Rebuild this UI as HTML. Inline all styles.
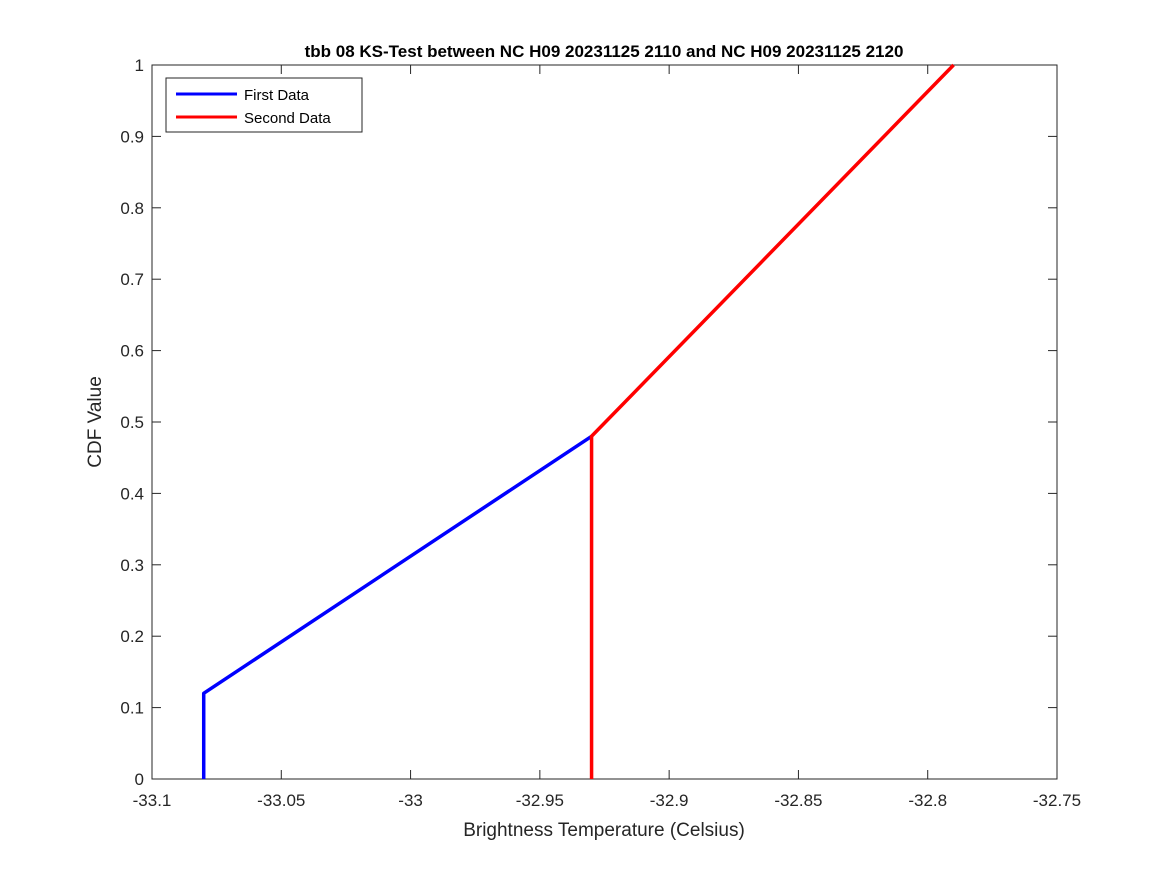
<!DOCTYPE html>
<html><head><meta charset="utf-8"><style>
body{margin:0;background:#fff}
svg text{font-family:"Liberation Sans",sans-serif}
</style></head><body>
<svg width="1167" height="875">
<rect width="1167" height="875" fill="#fff"/>
<g id="axes"></g>
<g id="series"></g>
<text x="604" y="57" text-anchor="middle" font-size="17" font-weight="bold">tbb 08 KS-Test between NC H09 20231125 2110 and NC H09 20231125 2120</text>
<text x="604" y="836" text-anchor="middle" font-size="19" fill="#262626">Brightness Temperature (Celsius)</text>
<text transform="translate(101,422) rotate(-90)" text-anchor="middle" font-size="19" fill="#262626">CDF Value</text>
<g>
<rect x="166" y="78" width="196" height="54" fill="#fff" stroke="#262626" stroke-width="1"/>
<line x1="176" y1="94" x2="237" y2="94" stroke="#0000ff" stroke-width="3"/>
<text x="244" y="100" font-size="15">First Data</text>
<line x1="176" y1="117" x2="237" y2="117" stroke="#ff0000" stroke-width="3"/>
<text x="244" y="123" font-size="15">Second Data</text>
</g>
</svg>
<script>
const xTicks=[-33.1,-33.05,-33,-32.95,-32.9,-32.85,-32.8,-32.75];
const xTickLabels=["-33.1","-33.05","-33","-32.95","-32.9","-32.85","-32.8","-32.75"];
const yTicks=[0,0.1,0.2,0.3,0.4,0.5,0.6,0.7,0.8,0.9,1];
const yTickLabels=["0","0.1","0.2","0.3","0.4","0.5","0.6","0.7","0.8","0.9","1"];
const firstX=[-33.08,-33.08,-32.93];
const firstY=[0,0.12,0.48];
const secondX=[-32.93,-32.93,-32.79];
const secondY=[0,0.48,1];
const L=152,R=1057,T=65,B=779;
const sx=v=>L+(v-(-33.1))/0.35*(R-L);
const sy=v=>B-v*(B-T);
const NS="http://www.w3.org/2000/svg";
function mk(tag,attrs,parent){const e=document.createElementNS(NS,tag);for(const k in attrs)e.setAttribute(k,attrs[k]);parent.appendChild(e);return e;}
const ax=document.getElementById('axes');
const frame=mk('rect',{x:L,y:T,width:R-L,height:B-T,fill:'none',stroke:'#262626','stroke-width':1},ax);


xTicks.forEach((t,i)=>{const x=sx(t);
mk('line',{x1:x,y1:B,x2:x,y2:B-9,stroke:'#262626'},ax);
mk('line',{x1:x,y1:T,x2:x,y2:T+9,stroke:'#262626'},ax);
const tx=mk('text',{x:x,y:B+27,'text-anchor':'middle','font-size':17,fill:'#262626'},ax);tx.textContent=xTickLabels[i];

});
yTicks.forEach((t,i)=>{const y=sy(t);
mk('line',{x1:L,y1:y,x2:L+9,y2:y,stroke:'#262626'},ax);
mk('line',{x1:R,y1:y,x2:R-9,y2:y,stroke:'#262626'},ax);
const tx=mk('text',{x:L-8,y:y+6,'text-anchor':'end','font-size':17,fill:'#262626'},ax);tx.textContent=yTickLabels[i];

});
const sg=document.getElementById('series');
function line(xs,ys,c,name){const p=mk('polyline',{points:xs.map((x,i)=>sx(x)+','+sy(ys[i])).join(' '),fill:'none',stroke:c,'stroke-width':3.5,'stroke-linejoin':'round'},sg);

}
line(firstX,firstY,'#0000ff','first-data-line');
line(secondX,secondY,'#ff0000','second-data-line');
</script>
</body></html>
